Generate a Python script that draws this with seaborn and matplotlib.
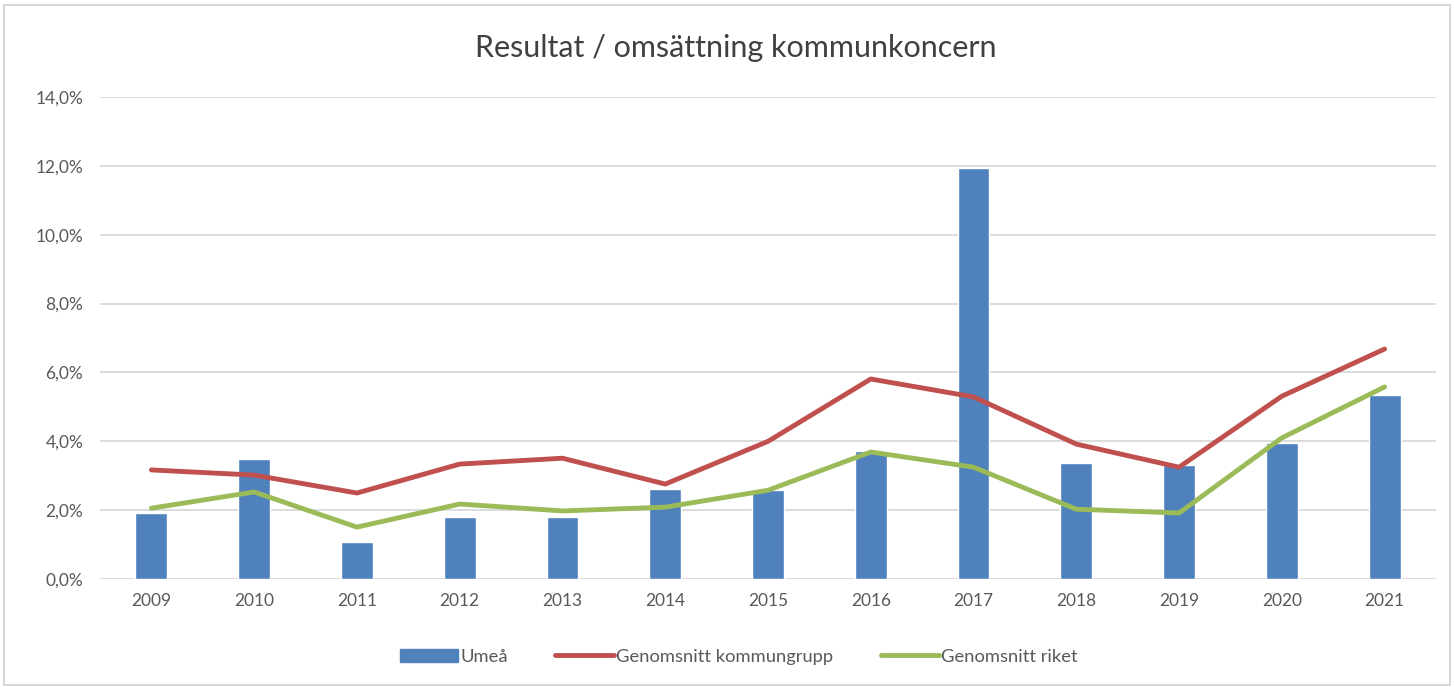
import matplotlib.pyplot as plt
import seaborn as sns
import numpy as np
from matplotlib.ticker import FuncFormatter, MultipleLocator
from matplotlib.patches import Patch
from matplotlib.lines import Line2D

# Data (percent)
years = ['2009', '2010', '2011', '2012', '2013', '2014', '2015',
         '2016', '2017', '2018', '2019', '2020', '2021']
umea = [1.92, 3.49, 1.07, 1.80, 1.80, 2.61, 2.58, 3.72, 11.94, 3.37, 3.31, 3.95, 5.34]
kommungrupp = [3.17, 3.02, 2.50, 3.34, 3.51, 2.76, 4.00, 5.81, 5.29, 3.92, 3.25, 5.31, 6.68]
riket = [2.06, 2.53, 1.51, 2.18, 1.98, 2.09, 2.58, 3.69, 3.25, 2.03, 1.92, 4.10, 5.58]

blue = '#4F81BD'
red = '#C0504D'
green = '#9BBB59'
grey = '#595959'

sns.set_style('white')
plt.rcParams['font.family'] = ['Lato', 'DejaVu Sans']

fig = plt.figure(figsize=(14.54, 6.87), dpi=100)
ax = fig.add_axes([0.0688, 0.157, 0.9188, 0.702])

sns.barplot(x=years, y=umea, color=blue, width=0.31, saturation=1, ax=ax, zorder=2)
pos = np.arange(len(years))
sns.lineplot(x=pos, y=kommungrupp, color=red, linewidth=3.5, ax=ax, zorder=3)
sns.lineplot(x=pos, y=riket, color=green, linewidth=3.5, ax=ax, zorder=3)

ax.set_xlim(-0.5, len(years) - 0.5)
ax.set_ylim(0, 14)
ax.yaxis.set_major_locator(MultipleLocator(2))
ax.yaxis.set_major_formatter(FuncFormatter(lambda v, p: f'{v:.1f}%'.replace('.', ',')))
ax.grid(axis='y', color='#D9D9D9', linewidth=1.3, zorder=0)
ax.set_axisbelow(True)
for s in ax.spines.values():
    s.set_visible(False)
ax.tick_params(axis='both', length=0, labelsize=12.5, colors=grey, pad=10)
ax.tick_params(axis='y', pad=12)

fig.text(0.506, 0.93, 'Resultat / omsättning kommunkoncern', ha='center', va='center',
         fontsize=22, color='#404040')

handles = [Patch(facecolor=blue, edgecolor=blue),
           Line2D([0], [0], color=red, linewidth=3.5),
           Line2D([0], [0], color=green, linewidth=3.5)]
fig.legend(handles, ['Umeå', 'Genomsnitt kommungrupp', 'Genomsnitt riket'],
           loc='center', bbox_to_anchor=(0.508, 0.044), ncol=3, frameon=False,
           fontsize=13.2, labelcolor=grey, handlelength=3.2, handletextpad=0.1,
           columnspacing=2.6)

fig.patches.append(plt.Rectangle((0.003, 0.003), 0.994, 0.99, transform=fig.transFigure,
                                 fill=False, edgecolor='#D0D0D0', linewidth=1.2))

fig.savefig('out.png', dpi=100)
